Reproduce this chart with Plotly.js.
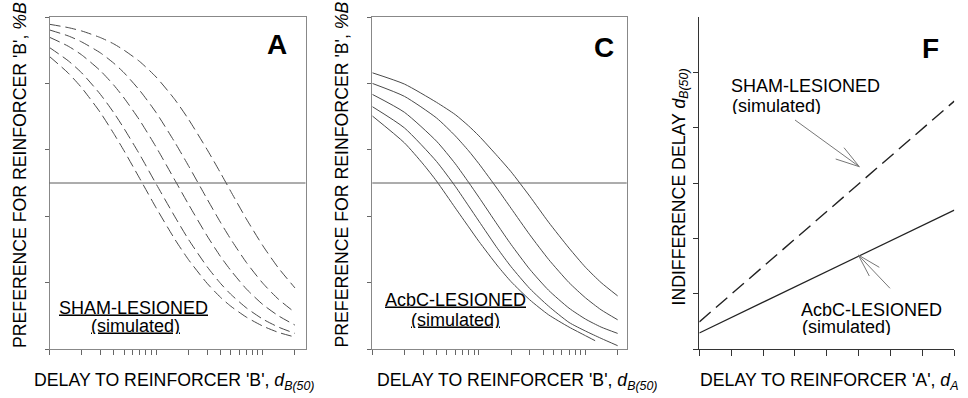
<!DOCTYPE html>
<html>
<head>
<meta charset="utf-8">
<script src="https://cdn.plot.ly/plotly-3.0.1.min.js"></script>
<style>html,body{margin:0;padding:0;background:#fff;}#chart{width:968px;height:398px;}</style>
</head>
<body>
<div id="chart"></div>
<script>
// ---- Panel A : sham-lesioned (simulated), dashed curves ----
const delayA = [1, 1.5, 2, 3, 4, 5, 7, 10, 15, 20, 30, 40, 50, 70, 100, 140, 200];
const shamPref1 = [88.1, 83.1, 78.7, 71.2, 64.9, 59.7, 51.4, 42.5, 33.0, 27.0, 19.8, 15.6, 12.9, 9.6, 6.9, 5.0, 3.6];
const shamPref2 = [90.8, 86.8, 83.2, 76.7, 71.2, 66.4, 58.6, 49.7, 39.8, 33.1, 24.8, 19.8, 16.5, 12.4, 9.0, 6.6, 4.7];
const shamPref3 = [93.9, 91.2, 88.6, 83.8, 79.5, 75.6, 68.9, 60.8, 50.8, 43.7, 34.1, 27.9, 23.7, 18.1, 13.4, 10.0, 7.2];
const shamPref4 = [96.1, 94.3, 92.5, 89.2, 86.1, 83.2, 77.9, 71.2, 62.2, 55.3, 45.2, 38.2, 33.1, 26.1, 19.8, 15.0, 11.0];
const shamPref5 = [97.8, 96.8, 95.8, 93.8, 91.9, 90.0, 86.6, 81.9, 75.1, 69.3, 60.1, 53.1, 47.5, 39.2, 31.1, 24.4, 18.4];

// ---- Panel C : AcbC-lesioned (simulated), solid curves ----
const delayC = [1, 2, 4, 6, 8, 10, 15, 20, 30, 45, 70, 100, 140, 200];
const acbcPref1 = [83.2, 79.8, 74.3, 70.6, 67.2, 64.2, 58.0, 53.4, 46.0, 38.2, 30.4, 24.6, 20.0, 16.0];
const acbcPref2 = [80.0, 76.1, 69.6, 64.2, 59.7, 55.8, 48.1, 42.4, 34.4, 27.0, 20.0, 15.4, 11.8, 8.8];
const acbcPref3 = [76.7, 71.3, 62.6, 55.8, 50.2, 45.7, 37.3, 31.5, 24.0, 17.7, 12.3, 9.0, 6.6, 4.7];
const acbcPref4 = [73.0, 66.6, 56.5, 49.0, 43.1, 38.5, 30.2, 24.8, 18.2, 12.9, 8.0, 5.4, 3.2, 1.0];
const delayC5 = [1, 2, 3, 4, 6, 8, 10, 15, 20, 30, 45, 70, 100, 123];
const acbcPref5 = [70.2, 62.1, 55.7, 50.6, 42.5, 36.8, 32.4, 25.0, 20.3, 14.8, 10.3, 6.6, 4.0, 2.5];

// ---- Panel F : indifference delay vs delay to A ----
const delayToA = [0, 8];
const shamIndiff = [0.49, 4.48];
const acbcIndiff = [0.29, 2.51];

// ---- tick positions ----
const logTicks = [1,2,3,4,5,6,7,8,9,10,20,30,40,50,60,70,80,90,100,200];
const prefTicks = [0,20,40,60,80,100];
const fxTicks = [0,1,2,3,4,5,6,7,8];
const fyTicks = [0,1,2,3,4,5];

const FONT = 'Liberation Sans, Arial, Helvetica, sans-serif';
const curveCol = '#4a4a4a';

const traces = [];
[shamPref1, shamPref2, shamPref3, shamPref4, shamPref5].forEach(v => traces.push({
  x: delayA, y: v, xaxis: 'x', yaxis: 'y', type: 'scatter', mode: 'lines',
  line: {color: curveCol, width: 1, dash: '11px,5px', shape: 'spline', smoothing: 0.6},
  showlegend: false, hoverinfo: 'skip'
}));
[acbcPref1, acbcPref2, acbcPref3, acbcPref4].forEach(v => traces.push({
  x: delayC, y: v, xaxis: 'x2', yaxis: 'y2', type: 'scatter', mode: 'lines',
  line: {color: curveCol, width: 1, shape: 'spline', smoothing: 0.6},
  showlegend: false, hoverinfo: 'skip'
}));
traces.push({
  x: delayC5, y: acbcPref5, xaxis: 'x2', yaxis: 'y2', type: 'scatter', mode: 'lines',
  line: {color: curveCol, width: 1, shape: 'spline', smoothing: 0.6},
  showlegend: false, hoverinfo: 'skip'
});
traces.push({
  x: delayToA, y: shamIndiff, xaxis: 'x3', yaxis: 'y3', type: 'scatter', mode: 'lines',
  line: {color: '#222', width: 1.4, dash: '15px,7px'}, showlegend: false, hoverinfo: 'skip'
});
traces.push({
  x: delayToA, y: acbcIndiff, xaxis: 'x3', yaxis: 'y3', type: 'scatter', mode: 'lines',
  line: {color: '#222', width: 1.2}, showlegend: false, hoverinfo: 'skip'
});

const W = 968, H = 398;
const px = v => v / W;
const py = v => 1 - v / H;
const yDom = [py(349), py(17)];

function boxAxis(extra) {
  return Object.assign({
    showgrid: false, zeroline: false, showticklabels: false,
    ticks: 'outside', ticklen: 5, tickwidth: 1, tickcolor: '#666',
    showline: true, linecolor: '#888', linewidth: 1, mirror: true, fixedrange: true
  }, extra);
}

const layout = {
  width: W, height: H,
  margin: {l: 0, r: 0, t: 0, b: 0},
  paper_bgcolor: '#fff', plot_bgcolor: '#fff',
  font: {family: FONT, color: '#000'},
  showlegend: false,
  xaxis: boxAxis({domain: [px(49.5), px(305.5)], type: 'log', range: [0, 2.4], tickvals: logTicks, anchor: 'y'}),
  yaxis: boxAxis({domain: yDom, range: [0, 100], tickvals: prefTicks, ticklen: 4, anchor: 'x'}),
  xaxis2: boxAxis({domain: [px(372.3), px(626.7)], type: 'log', range: [0, 2.386], tickvals: logTicks, anchor: 'y2'}),
  yaxis2: boxAxis({domain: yDom, range: [0, 100], tickvals: prefTicks, ticklen: 4, anchor: 'x2'}),
  xaxis3: boxAxis({domain: [px(699.3), px(954.3)], range: [0, 8], tickvals: fxTicks, anchor: 'y3', mirror: false, linecolor: '#333', tickcolor: '#333', ticklen: 6}),
  yaxis3: boxAxis({domain: yDom, range: [0, 6], tickvals: fyTicks, anchor: 'x3', mirror: false, linecolor: '#333', tickcolor: '#333', ticklen: 5}),
  shapes: [
    {type: 'line', xref: 'x domain', yref: 'y', x0: 0, x1: 1, y0: 50, y1: 50, line: {color: '#5a5a5a', width: 1}},
    {type: 'line', xref: 'x2 domain', yref: 'y2', x0: 0, x1: 1, y0: 50, y1: 50, line: {color: '#5a5a5a', width: 1}}
  ],
  annotations: []
};

const A = layout.annotations;
function txt(text, x, y, opts) {
  A.push(Object.assign({
    text: text, xref: 'paper', yref: 'paper', x: px(x), y: py(y),
    xanchor: 'center', yanchor: 'middle', showarrow: false,
    font: {family: FONT, size: 17.7, color: '#000'}
  }, opts || {}));
}
const xTitleB = "DELAY TO REINFORCER 'B', <i>d</i><sub><i>B(50)</i></sub>";
const yTitleB = "PREFERENCE FOR REINFORCER 'B', <i>%B</i>";
txt(xTitleB, 174, 381);
txt(xTitleB, 517, 381);
txt("DELAY TO REINFORCER 'A', <i>d</i><sub><i>A</i></sub>", 828.5, 381);
txt(yTitleB, 20, 175, {textangle: -90});
txt(yTitleB, 341.5, 175, {textangle: -90});
txt("INDIFFERENCE DELAY <i>d</i><sub><i>B(50)</i></sub>", 680, 187.5, {textangle: -90});

// panel letters
txt('<b>A</b>', 276.5, 44, {font: {family: FONT, size: 28, color: '#000'}});
txt('<b>C</b>', 604, 47, {font: {family: FONT, size: 28, color: '#000'}});
txt('<b>F</b>', 930, 48.5, {font: {family: FONT, size: 28, color: '#000'}});

// group labels (two stacked lines each; compact boxes so lines sit close)
const uFont = {family: FONT, size: 18, color: '#000', lineposition: 'under'};
const lab = {height: 17, valign: 'middle'};
txt('SHAM-LESIONED', 133, 307.5, Object.assign({font: uFont}, lab));
txt('(simulated)', 135, 325.5, Object.assign({font: uFont}, lab));
txt('AcbC-LESIONED', 455, 299, Object.assign({font: uFont}, lab));
txt('(simulated)', 455, 319.5, Object.assign({font: uFont}, lab));
const pFont = {family: FONT, size: 18, color: '#000'};
txt('SHAM-LESIONED', 729, 86, Object.assign({font: pFont, xanchor: 'left'}, lab));
txt('(simulated)', 730, 105.5, Object.assign({font: pFont, xanchor: 'left'}, lab));
txt('AcbC-LESIONED', 799, 309, Object.assign({font: pFont, xanchor: 'left'}, lab));
txt('(simulated)', 800, 326.5, Object.assign({font: pFont, xanchor: 'left'}, lab));

// pointer arrows in panel F (shaft + two barbs each), drawn as paper-space lines
function seg(x0, y0, x1, y1) {
  layout.shapes.push({type: 'line', xref: 'paper', yref: 'paper',
    x0: px(x0), y0: py(y0), x1: px(x1), y1: py(y1), line: {color: '#777', width: 1}});
}
seg(795, 120, 859.3, 166.7);
seg(835.7, 159, 859.3, 166.7);
seg(844, 147.7, 859.3, 166.7);
seg(890, 288.3, 858.3, 255);
seg(879.3, 267.3, 858.3, 255);
seg(869.3, 276, 858.3, 255);

Plotly.newPlot('chart', traces, layout, {staticPlot: true, displayModeBar: false});
</script>
</body>
</html>
